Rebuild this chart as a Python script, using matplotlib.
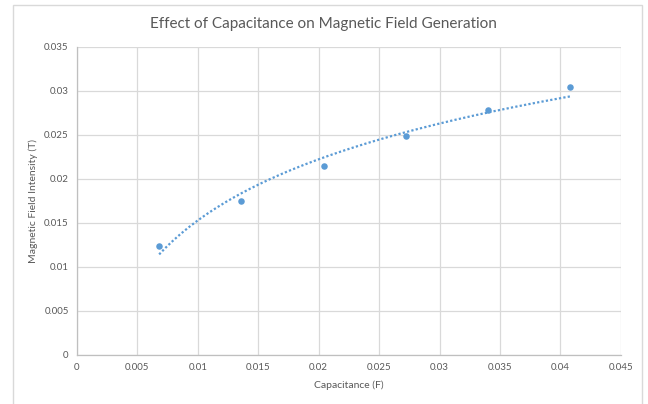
import numpy as np
import matplotlib.pyplot as plt
from matplotlib.patches import Rectangle

# Measured data
capacitance = [0.0068, 0.0136, 0.0204, 0.0272, 0.0340, 0.0408]
field = [0.0124, 0.0175, 0.0215, 0.0249, 0.0278, 0.0304]

blue = '#5B9BD5'
grey_text = '#595959'
grid_col = '#D9D9D9'

plt.rcParams['font.family'] = ['Lato', 'DejaVu Sans']

fig = plt.figure(figsize=(6.48, 4.04), dpi=100)
ax = fig.add_axes([0.1188, 0.1213, 0.8392, 0.7624])

# chart border (runs off the bottom edge)
fig.patches.append(Rectangle((0.020, -0.05), 0.971, 1.037, transform=fig.transFigure,
                             fill=False, edgecolor='#D9D9D9', linewidth=1))

# logarithmic trendline fitted to the data
x = np.array(capacitance)
y = np.array(field)
a, b = np.polyfit(np.log(x), y, 1)
xt = np.linspace(x.min(), x.max(), 200)
ax.plot(xt, a * np.log(xt) + b, linestyle=(0, (1, 1)), color=blue, linewidth=1.6, zorder=3)

ax.scatter(capacitance, field, s=22, color=blue, zorder=4, linewidths=0)

ax.set_xlim(0, 0.045)
ax.set_ylim(0, 0.035)
ax.set_xticks(np.arange(0, 0.0451, 0.005))
ax.set_yticks(np.arange(0, 0.0351, 0.005))
ax.set_xticklabels(['0', '0.005', '0.01', '0.015', '0.02', '0.025', '0.03', '0.035', '0.04', '0.045'])
ax.set_yticklabels(['0', '0.005', '0.01', '0.015', '0.02', '0.025', '0.03', '0.035'])
ax.tick_params(length=0, labelsize=7, colors=grey_text, pad=6)

ax.grid(True, color=grid_col, linewidth=0.9)
ax.set_axisbelow(True)
for side in ['top', 'right']:
    ax.spines[side].set_visible(False)
for side in ['left', 'bottom']:
    ax.spines[side].set_color('#BFBFBF')
    ax.spines[side].set_linewidth(0.9)

fig.text(0.499, 0.94, 'Effect of Capacitance on Magnetic Field Generation',
         ha='center', va='center', fontsize=11, color=grey_text)
ax.set_xlabel('Capacitance (F)', fontsize=7.5, color=grey_text, labelpad=6)
ax.set_ylabel('Magnetic Field Intensity (T)', fontsize=7.5, color=grey_text, labelpad=4)

fig.savefig('out.png', dpi=100)
